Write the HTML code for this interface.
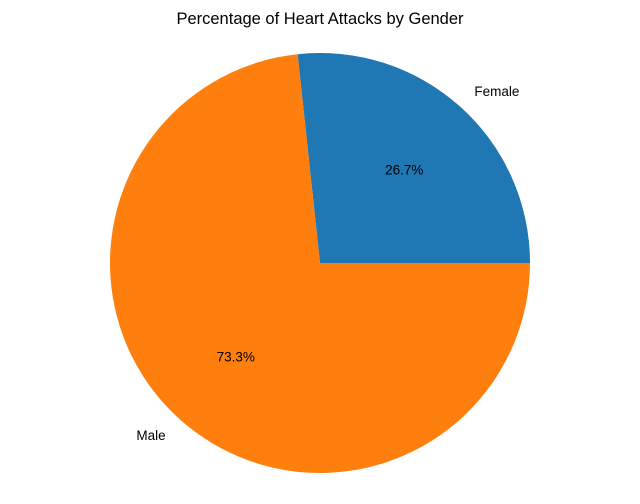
<!DOCTYPE html>
<html>
<head>
<meta charset="utf-8">
<style>
  html,body{margin:0;padding:0;background:#fff;}
  svg{display:block;font-family:"Liberation Sans","DejaVu Sans",sans-serif;}
</style>
</head>
<body>
<svg id="chart" width="640" height="504" viewBox="0 0 640 504">
  <text x="320" y="24" text-anchor="middle" font-size="16.5" fill="#000">Percentage of Heart Attacks by Gender</text>
  <g id="slices"></g>
  <g id="labels"></g>
</svg>
<script>
const categories = ["Female", "Male"];
const values = [26.7, 73.3];
const pctLabels = ["26.7%", "73.3%"];
const colors = ["#1f77b4", "#ff7f0e"];

const cx = 320, cy = 263, r = 210;
const NS = "http://www.w3.org/2000/svg";
const sliceG = document.getElementById("slices");
const labelG = document.getElementById("labels");
const total = values.reduce((a, b) => a + b, 0);
function pt(angDeg, rad) {
  const a = angDeg * Math.PI / 180;
  return [cx + rad * Math.cos(a), cy - rad * Math.sin(a)];
}
let start = 0;
values.forEach((v, i) => {
  const sweep = v / total * 360;
  const end = start + sweep;
  const [x1, y1] = pt(start, r);
  const [x2, y2] = pt(end, r);
  const large = sweep > 180 ? 1 : 0;
  const path = document.createElementNS(NS, "path");
  path.setAttribute("d", `M${cx},${cy} L${x1},${y1} A${r},${r} 0 ${large} 0 ${x2},${y2} Z`);
  path.setAttribute("fill", colors[i]);
  
  
  sliceG.appendChild(path);

  const mid = start + sweep / 2;
  const [lx, ly] = pt(mid, r * 1.1);
  const t = document.createElementNS(NS, "text");
  t.setAttribute("x", lx);
  t.setAttribute("y", ly + 5);
  t.setAttribute("font-size", "13.5");
  t.setAttribute("text-anchor", Math.cos(mid * Math.PI / 180) >= 0 ? "start" : "end");
  t.textContent = categories[i];
  
  
  labelG.appendChild(t);

  const [px, py] = pt(mid, r * 0.6);
  const p = document.createElementNS(NS, "text");
  p.setAttribute("x", px);
  p.setAttribute("y", py + 5);
  p.setAttribute("font-size", "13.5");
  p.setAttribute("text-anchor", "middle");
  p.textContent = pctLabels[i];
  
  
  labelG.appendChild(p);

  start = end;
});
</script>
</body>
</html>
